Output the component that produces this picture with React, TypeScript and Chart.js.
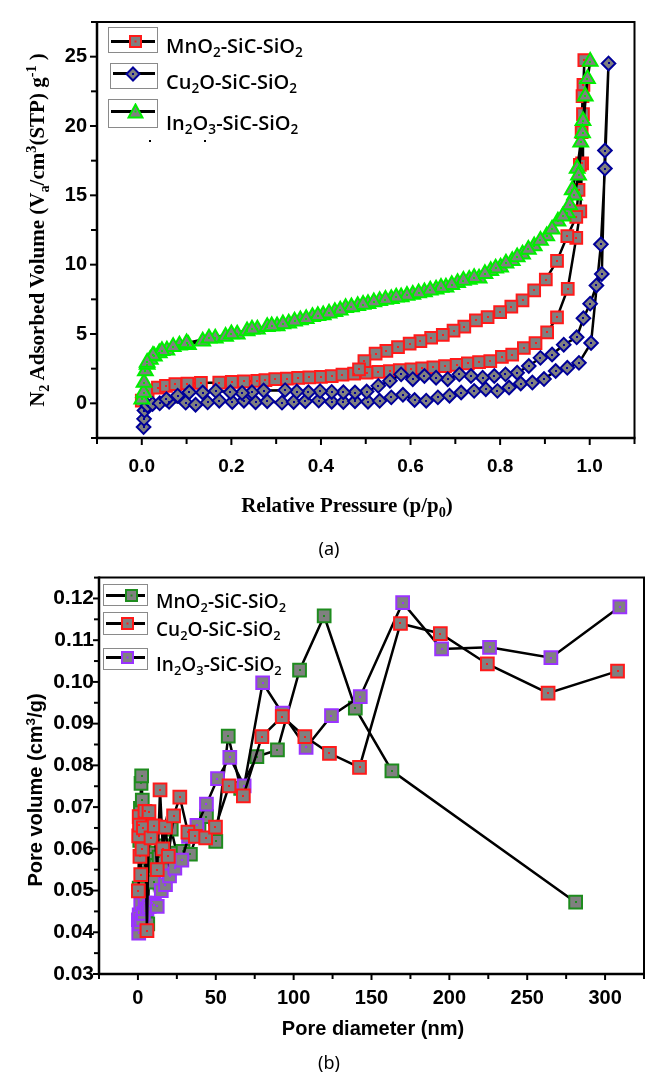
import React, { useEffect, useRef } from "react";
import { Chart, registerables } from "chart.js";

Chart.register(...registerables);

// ---------- (a) N2 adsorption–desorption isotherms ----------
const mnAdsP = [0.0, 0.013, 0.036, 0.054, 0.075, 0.102, 0.132, 0.173, 0.201, 0.228, 0.258, 0.276, 0.298, 0.324, 0.349, 0.374, 0.4, 0.424, 0.448, 0.474, 0.502, 0.528, 0.554, 0.576, 0.602, 0.626, 0.651, 0.677, 0.703, 0.728, 0.753, 0.778, 0.804, 0.827, 0.853, 0.879, 0.905, 0.927, 0.951, 0.97, 0.979, 0.983, 0.985, 0.988];
const mnAdsV = [0.19, 0.9, 1.14, 1.26, 1.38, 1.43, 1.47, 1.5, 1.55, 1.58, 1.62, 1.68, 1.74, 1.79, 1.83, 1.87, 1.9, 1.97, 2.07, 2.14, 2.21, 2.27, 2.33, 2.39, 2.45, 2.52, 2.6, 2.69, 2.78, 2.88, 2.97, 3.04, 3.35, 3.52, 3.99, 4.35, 5.11, 6.2, 8.26, 11.94, 13.85, 17.3, 20.85, 24.75];
const mnDesP = [0.986, 0.984, 0.982, 0.978, 0.975, 0.97, 0.95, 0.927, 0.902, 0.876, 0.85, 0.825, 0.8, 0.772, 0.746, 0.72, 0.696, 0.672, 0.646, 0.622, 0.598, 0.572, 0.546, 0.522, 0.497, 0.485];
const mnDesV = [22.97, 22.15, 19.56, 17.2, 15.4, 13.44, 12.06, 10.28, 8.93, 8.15, 7.43, 6.98, 6.58, 6.22, 5.98, 5.53, 5.25, 4.94, 4.73, 4.49, 4.3, 4.06, 3.78, 3.59, 3.04, 2.45];

const cuAdsP = [0.004, 0.005, 0.006, 0.013, 0.024, 0.04, 0.061, 0.098, 0.12, 0.147, 0.173, 0.202, 0.228, 0.254, 0.28, 0.313, 0.339, 0.365, 0.395, 0.424, 0.45, 0.476, 0.505, 0.531, 0.557, 0.583, 0.609, 0.635, 0.661, 0.687, 0.713, 0.742, 0.768, 0.794, 0.82, 0.846, 0.872, 0.898, 0.924, 0.95, 0.976, 1.003, 1.025, 1.034, 1.042];
const cuAdsV = [-1.71, -1.12, -0.52, -0.17, -0.05, 0.0, 0.11, 0.05, -0.1, 0.07, 0.19, 0.1, 0.19, 0.08, 0.15, 0.05, 0.1, 0.15, 0.2, 0.12, 0.1, 0.15, 0.12, 0.18, 0.43, 0.62, 0.24, 0.19, 0.43, 0.55, 0.78, 0.9, 1.02, 0.9, 1.14, 1.43, 1.5, 1.75, 2.33, 2.56, 2.92, 4.35, 11.47, 16.93, 24.51];
const cuDesP = [1.034, 1.027, 1.015, 1.001, 0.986, 0.971, 0.942, 0.916, 0.89, 0.864, 0.838, 0.812, 0.787, 0.761, 0.735, 0.709, 0.683, 0.657, 0.631, 0.605, 0.579, 0.554, 0.528, 0.502, 0.476, 0.45, 0.424, 0.398, 0.372, 0.346, 0.32, 0.272, 0.246, 0.224, 0.198, 0.165, 0.136, 0.106, 0.08, 0.055];
const cuDesV = [18.23, 9.33, 8.5, 7.19, 6.13, 4.76, 4.23, 3.52, 3.28, 2.69, 2.21, 2.09, 1.97, 1.85, 1.97, 2.09, 1.74, 1.85, 1.97, 1.74, 2.09, 1.62, 1.26, 0.85, 0.78, 0.8, 0.82, 0.88, 0.8, 0.85, 0.95, 0.92, 0.8, 0.75, 0.8, 0.9, 0.78, 0.8, 0.55, 0.3];

const inAdsP = [0.0, 0.004, 0.005, 0.008, 0.012, 0.019, 0.028, 0.039, 0.056, 0.084, 0.104, 0.136, 0.164, 0.187, 0.213, 0.235, 0.258, 0.28, 0.302, 0.328, 0.354, 0.381, 0.405, 0.431, 0.455, 0.482, 0.505, 0.531, 0.557, 0.579, 0.605, 0.631, 0.657, 0.679, 0.705, 0.731, 0.753, 0.779, 0.801, 0.827, 0.85, 0.876, 0.904, 0.929, 0.95, 0.961, 0.972, 0.98, 0.985, 0.99, 1.001];
const inAdsV = [0.3, 0.78, 1.5, 2.33, 2.8, 3.16, 3.4, 3.63, 3.82, 4.18, 4.23, 4.47, 4.7, 4.82, 4.99, 5.22, 5.34, 5.53, 5.58, 5.77, 6.01, 6.25, 6.37, 6.6, 6.89, 7.03, 7.19, 7.39, 7.55, 7.67, 7.84, 8.03, 8.22, 8.38, 8.69, 8.93, 9.02, 9.57, 9.81, 10.28, 10.76, 11.35, 12.06, 13.13, 13.73, 15.39, 16.93, 18.83, 20.37, 22.15, 24.65];
const inDesP = [0.995, 0.984, 0.975, 0.966, 0.955, 0.94, 0.916, 0.89, 0.863, 0.838, 0.813, 0.79, 0.766, 0.742, 0.718, 0.692, 0.668, 0.644, 0.618, 0.592, 0.568, 0.544, 0.518, 0.494, 0.468, 0.443, 0.418, 0.393, 0.367, 0.341, 0.315, 0.29, 0.246, 0.2, 0.15, 0.1, 0.07, 0.045, 0.025, 0.012];
const inDesV = [23.4, 19.5, 16.45, 15.0, 14.3, 13.5, 12.55, 11.75, 11.1, 10.55, 10.1, 9.75, 9.35, 9.05, 8.85, 8.55, 8.35, 8.15, 7.95, 7.78, 7.65, 7.48, 7.3, 7.12, 6.95, 6.72, 6.5, 6.32, 6.1, 5.92, 5.72, 5.58, 5.35, 5.0, 4.7, 4.35, 4.08, 3.8, 3.45, 2.95];

const isoXMajor = [0, 0.2, 0.4, 0.6, 0.8, 1.0];
const isoXMinor = [-0.1, 0.1, 0.3, 0.5, 0.7, 0.9, 1.1];
const isoYMajor = [0, 5, 10, 15, 20, 25];
const isoYMinor = [-2.5, 2.5, 7.5, 12.5, 17.5, 22.5, 27.5];

// ---------- (b) pore size distribution ----------
const mnPoreD = [0.8, 1.2, 1.6, 2.0, 2.4, 2.8, 3.3, 3.9, 4.6, 5.4, 6.3, 7.4, 8.6, 10.0, 11.7, 13.6, 15.8, 18.4, 21.4, 24.9, 29.0, 33.7, 39.2, 44.0, 50.0, 58.0, 66.0, 76.4, 89.6, 103.8, 119.6, 139.6, 163.1, 281.1];
const mnPoreV = [0.0506, 0.062, 0.0697, 0.0757, 0.0775, 0.0717, 0.0655, 0.06, 0.054, 0.0454, 0.042, 0.058, 0.059, 0.052, 0.056, 0.058, 0.0607, 0.055, 0.0647, 0.059, 0.0594, 0.0587, 0.065, 0.0677, 0.0618, 0.087, 0.0745, 0.0821, 0.0837, 0.1028, 0.1158, 0.0937, 0.0787, 0.0472];
const cuPoreD = [0.3, 0.5, 0.8, 1.0, 1.3, 1.8, 2.6, 3.5, 4.5, 5.8, 7.1, 8.4, 10.5, 12.4, 14.2, 16.0, 17.7, 19.5, 22.9, 26.9, 32.1, 36.9, 43.5, 49.8, 58.5, 67.7, 79.6, 92.7, 107.2, 123.0, 142.3, 168.6, 194.2, 224.4, 263.4, 308.0];
const cuPoreV = [0.0499, 0.0631, 0.0677, 0.0657, 0.0582, 0.0538, 0.0599, 0.065, 0.069, 0.0404, 0.0689, 0.0626, 0.0655, 0.055, 0.0741, 0.06, 0.0652, 0.0582, 0.0679, 0.0724, 0.064, 0.063, 0.0626, 0.0652, 0.0751, 0.0727, 0.0869, 0.0917, 0.0869, 0.0829, 0.0795, 0.114, 0.1116, 0.1043, 0.0973, 0.1026];
const inPoreD = [0.3, 0.5, 0.8, 1.2, 1.8, 2.5, 3.5, 4.6, 5.8, 7.2, 9.0, 10.6, 12.4, 15.0, 17.7, 20.3, 23.7, 28.2, 32.5, 37.9, 44.0, 51.1, 59.0, 68.2, 80.1, 92.7, 108.0, 124.3, 142.8, 170.0, 195.0, 225.8, 265.2, 309.5];
const inPoreV = [0.043, 0.0398, 0.0442, 0.042, 0.0466, 0.043, 0.0445, 0.047, 0.0456, 0.0462, 0.047, 0.0465, 0.0462, 0.05, 0.0514, 0.0535, 0.0554, 0.0573, 0.063, 0.0656, 0.0707, 0.0768, 0.0819, 0.0751, 0.0998, 0.0925, 0.0843, 0.0919, 0.0965, 0.119, 0.1079, 0.1083, 0.1058, 0.118];

const poreXMajor = [0, 50, 100, 150, 200, 250, 300];
const poreXMinor = [-25, 25, 75, 125, 175, 225, 275, 325];
const poreYMajor = [0.03, 0.04, 0.05, 0.06, 0.07, 0.08, 0.09, 0.1, 0.11, 0.12];
const poreYMinor = [0.035, 0.045, 0.055, 0.065, 0.075, 0.085, 0.095, 0.105, 0.115, 0.125];

const seriesNames = ["MnO2-SiC-SiO2", "Cu2O-SiC-SiO2", "In2O3-SiC-SiO2"];

const GRAY = "#808080";
const RED = "#ff1a1a";
const NAVY = "#000099";
const LIME = "#00ee00";
const GREEN = "#1e8c1e";
const PURPLE = "#9a33ff";

const SANS = "'Liberation Sans', Arial, sans-serif";
const SERIF = "'Liberation Serif', 'Times New Roman', serif";
const LEG = "'Open Sans', 'Noto Sans', sans-serif";

const pts = (xs: number[], ys: number[]) => xs.map((x, i) => ({ x, y: ys[i] }));

function framePlugin(cfg: any) {
  return {
    id: "frameTicks",
    afterDatasetDraw(chart: any, args: any) {
      const ds = chart.data.datasets[args.index];
      const ctx = chart.ctx;
      ctx.save();
      ctx.fillStyle = ds.dotColor;
      for (const el of args.meta.data) {
        ctx.fillRect(Math.round(el.x) - 1, Math.round(el.y) - 1, 2, 2);
      }
      ctx.restore();
    },
    afterDraw(chart: any) {
      const { ctx, chartArea: a, scales } = chart;
      const x = scales.x;
      const y = scales.y;
      ctx.save();
      ctx.strokeStyle = "#000";
      ctx.lineWidth = 2;
      const xt = [...cfg.xMajor.map((v: number) => [v, cfg.major]), ...cfg.xMinor.map((v: number) => [v, cfg.minor])];
      for (const [v, len] of xt) {
        const px = x.getPixelForValue(v);
        if (px < a.left - 1 || px > a.right + 1) continue;
        ctx.beginPath();
        ctx.moveTo(px, a.bottom);
        ctx.lineTo(px, a.bottom + len);
        ctx.stroke();
      }
      const yt = [...cfg.yMajor.map((v: number) => [v, cfg.major]), ...cfg.yMinor.map((v: number) => [v, cfg.minor])];
      for (const [v, len] of yt) {
        const py = y.getPixelForValue(v);
        if (py < a.top - 1 || py > a.bottom + 1) continue;
        ctx.beginPath();
        ctx.moveTo(a.left, py);
        ctx.lineTo(a.left - len, py);
        ctx.stroke();
      }
      ctx.lineWidth = cfg.frameW;
      ctx.beginPath();
      ctx.moveTo(a.left, a.top);
      ctx.lineTo(a.right, a.top);
      ctx.lineTo(a.right, a.bottom);
      ctx.stroke();
      ctx.lineWidth = cfg.axisW;
      ctx.beginPath();
      ctx.moveTo(a.left, a.top - 1);
      ctx.lineTo(a.left, a.bottom);
      ctx.lineTo(a.right + 1, a.bottom);
      ctx.stroke();
      ctx.restore();
    },
  };
}

function ds(label: string, data: any[], style: string, radius: number, color: string, order: number) {
  return {
    label,
    data,
    showLine: true,
    fill: false,
    tension: 0,
    borderColor: "#000",
    borderWidth: 2.5,
    pointStyle: style,
    pointRadius: radius,
    pointBackgroundColor: GRAY,
    pointBorderColor: color,
    pointBorderWidth: 2,
    order,
    dotColor: color,
  } as any;
}

function IsoChart() {
  const ref = useRef<HTMLCanvasElement | null>(null);
  useEffect(() => {
    if (!ref.current) return;
    const chart = new Chart(ref.current, {
      type: "scatter",
      data: {
        datasets: [
          ds(seriesNames[0], [...pts(mnAdsP, mnAdsV), ...pts(mnDesP, mnDesV)], "rect", 8.3, RED, 3),
          ds(seriesNames[1], [...pts(cuAdsP, cuAdsV), ...pts(cuDesP, cuDesV)], "rectRot", 6.8, NAVY, 2),
          ds(seriesNames[2], [...pts(inAdsP, inAdsV), ...pts(inDesP, inDesV)], "triangle", 8.5, LIME, 1),
        ],
      },
      options: {
        animation: false,
        responsive: false,
        events: [],
        layout: { padding: { top: 16, right: 8, left: 0, bottom: 0 } },
        plugins: { legend: { display: false }, tooltip: { enabled: false } },
        scales: {
          x: {
            type: "linear",
            min: -0.1,
            max: 1.1,
            grid: { display: false, drawTicks: false },
            border: { display: false },
            afterBuildTicks: (s: any) => {
              s.ticks = isoXMajor.map((v) => ({ value: v }));
            },
            afterFit: (s: any) => {
              s.height = 122;
            },
            ticks: {
              autoSkip: false,
              maxRotation: 0,
              padding: 17,
              color: "#000",
              font: { family: SANS, weight: "bold", size: 19 },
              callback: (v: any) => Number(v).toFixed(1),
            },
          },
          y: {
            type: "linear",
            min: -2.5,
            max: 27.5,
            grid: { display: false, drawTicks: false },
            border: { display: false },
            afterBuildTicks: (s: any) => {
              s.ticks = isoYMajor.map((v) => ({ value: v }));
            },
            afterFit: (s: any) => {
              s.width = 97;
            },
            ticks: {
              autoSkip: false,
              padding: 10,
              color: "#000",
              font: { family: SANS, weight: "bold", size: 20 },
              callback: (v: any) => String(v),
            },
          },
        },
      } as any,
      plugins: [
        framePlugin({ xMajor: isoXMajor, xMinor: isoXMinor, yMajor: isoYMajor, yMinor: isoYMinor, major: 7, minor: 6, frameW: 2, axisW: 2.5 }),
      ],
    });
    return () => chart.destroy();
  }, []);
  return <canvas ref={ref} width={645} height={560} style={{ position: "absolute", left: 0, top: 0, width: 645, height: 560 }} />;
}

function PoreChart() {
  const ref = useRef<HTMLCanvasElement | null>(null);
  useEffect(() => {
    if (!ref.current) return;
    const chart = new Chart(ref.current, {
      type: "scatter",
      data: {
        datasets: [
          ds(seriesNames[0], pts(mnPoreD, mnPoreV), "rect", 9, GREEN, 3),
          ds(seriesNames[1], pts(cuPoreD, cuPoreV), "rect", 9, RED, 1),
          ds(seriesNames[2], pts(inPoreD, inPoreV), "rect", 9, PURPLE, 2),
        ],
      },
      options: {
        animation: false,
        responsive: false,
        events: [],
        layout: { padding: { top: 17, right: 8, left: 0, bottom: 0 } },
        plugins: { legend: { display: false }, tooltip: { enabled: false } },
        scales: {
          x: {
            type: "linear",
            min: -25,
            max: 325,
            grid: { display: false, drawTicks: false },
            border: { display: false },
            afterBuildTicks: (s: any) => {
              s.ticks = poreXMajor.map((v) => ({ value: v }));
            },
            afterFit: (s: any) => {
              s.height = 104;
            },
            ticks: {
              autoSkip: false,
              maxRotation: 0,
              padding: 12,
              color: "#000",
              font: { family: SANS, weight: "bold", size: 20 },
              callback: (v: any) => String(v),
            },
          },
          y: {
            type: "linear",
            min: 0.03,
            max: 0.125,
            grid: { display: false, drawTicks: false },
            border: { display: false },
            afterBuildTicks: (s: any) => {
              s.ticks = poreYMajor.map((v) => ({ value: v }));
            },
            afterFit: (s: any) => {
              s.width = 99;
            },
            ticks: {
              autoSkip: false,
              padding: 5,
              color: "#000",
              font: { family: SANS, weight: "bold", size: 21 },
              callback: (v: any) => Number(v).toFixed(2),
            },
          },
        },
      } as any,
      plugins: [
        framePlugin({ xMajor: poreXMajor, xMinor: poreXMinor, yMajor: poreYMajor, yMinor: poreYMinor, major: 6, minor: 5, frameW: 2, axisW: 2.5 }),
      ],
    });
    return () => chart.destroy();
  }, []);
  return <canvas ref={ref} width={655} height={518} style={{ position: "absolute", left: 0, top: 560, width: 655, height: 518 }} />;
}

const sub: React.CSSProperties = { fontSize: "0.68em", position: "relative", top: "0.32em" };
const sup: React.CSSProperties = { fontSize: "0.68em", position: "relative", top: "-0.55em" };

function Marker({ kind, color, size }: { kind: string; color: string; size: number }) {
  const s = size;
  const c = s / 2;
  let shape: React.ReactNode;
  if (kind === "square") {
    shape = <rect x={2} y={2} width={s - 4} height={s - 4} fill={GRAY} stroke={color} strokeWidth={2} />;
  } else if (kind === "diamond") {
    shape = <polygon points={`${c},1.5 ${s - 1.5},${c} ${c},${s - 1.5} 1.5,${c}`} fill={GRAY} stroke={color} strokeWidth={2} />;
  } else {
    shape = <polygon points={`${c},1.5 ${s - 1.5},${s - 2.5} 1.5,${s - 2.5}`} fill={GRAY} stroke={color} strokeWidth={2} />;
  }
  return (
    <svg width={s} height={s} style={{ display: "block" }}>
      {shape}
      <rect x={c - 1} y={c - 1} width={2} height={2} fill={color} />
    </svg>
  );
}

function LegendItem(p: {
  box: [number, number, number, number];
  lineY: number;
  markerX: number;
  kind: string;
  color: string;
  msize: number;
  textLeft: number;
  textTop: number;
  fontSize: number;
  children: React.ReactNode;
}) {
  const [bl, bt, bw, bh] = p.box;
  return (
    <>
      <div style={{ position: "absolute", left: bl, top: bt, width: bw, height: bh, border: "1.5px solid #8a8a8a", boxSizing: "border-box" }} />
      <div style={{ position: "absolute", left: bl + 3, top: p.lineY - 1.25, width: bw - 6, height: 2.5, background: "#000" }} />
      <div style={{ position: "absolute", left: p.markerX - p.msize / 2, top: p.lineY - p.msize / 2 }}>
        <Marker kind={p.kind} color={p.color} size={p.msize} />
      </div>
      <div style={{ position: "absolute", left: p.textLeft, top: p.textTop, fontFamily: LEG, fontWeight: 600, fontSize: p.fontSize, lineHeight: `${p.fontSize}px`, whiteSpace: "nowrap", color: "#000" }}>
        {p.children}
      </div>
    </>
  );
}

const centered = (cx: number, cy: number, extra: React.CSSProperties = {}, rotate = false): React.CSSProperties => ({
  position: "absolute",
  left: cx,
  top: cy,
  transform: `translate(-50%, -50%)${rotate ? " rotate(-90deg)" : ""}`,
  whiteSpace: "nowrap",
  lineHeight: 1,
  color: "#000",
  ...extra,
});

const dot = (x: number, y: number): React.CSSProperties => ({ position: "absolute", left: x, top: y, width: 2, height: 2, background: "#000" });

export default function App() {
  return (
    <div style={{ position: "absolute", left: 0, top: 0, width: 645, height: 1078, overflow: "hidden", background: "#fff" }}>
      <IsoChart />
      <PoreChart />

      {/* (a) legend */}
      <LegendItem box={[108, 27, 50, 26]} lineY={41.5} markerX={135} kind="square" color={RED} msize={15} textLeft={166} textTop={35.5} fontSize={20}>
        MnO<span style={sub}>2</span>-SiC-SiO<span style={sub}>2</span>
      </LegendItem>
      <LegendItem box={[110, 63, 48, 26]} lineY={73.5} markerX={133} kind="diamond" color={NAVY} msize={16} textLeft={166} textTop={71.5} fontSize={20}>
        Cu<span style={sub}>2</span>O-SiC-SiO<span style={sub}>2</span>
      </LegendItem>
      <LegendItem box={[108, 99, 50, 29]} lineY={111.5} markerX={135} kind="triangle" color={LIME} msize={17} textLeft={166} textTop={112.5} fontSize={20}>
        In<span style={sub}>2</span>O<span style={sub}>3</span>-SiC-SiO<span style={sub}>2</span>
      </LegendItem>
      <div style={dot(149, 140)} />
      <div style={dot(204, 140)} />

      {/* (a) axis titles */}
      <div style={centered(37, 230, { fontFamily: SERIF, fontWeight: 700, fontSize: 21 }, true)}>
        N<span style={sub}>2</span> Adsorbed Volume (V<span style={sub}>a</span>/cm<span style={sup}>3</span>(STP) g<span style={sup}>-1</span> )
      </div>
      <div style={centered(347, 505, { fontFamily: SERIF, fontWeight: 700, fontSize: 21 })}>
        Relative Pressure (p/p<span style={sub}>0</span>)
      </div>
      <div style={centered(329, 548, { fontFamily: "'Noto Sans', sans-serif", fontSize: 18 })}>(a)</div>

      {/* (b) legend */}
      <LegendItem box={[103, 584, 45, 22]} lineY={595.5} markerX={131.5} kind="square" color={GREEN} msize={15} textLeft={156} textTop={591.5} fontSize={19}>
        MnO<span style={sub}>2</span>-SiC-SiO<span style={sub}>2</span>
      </LegendItem>
      <LegendItem box={[103, 612, 45, 23]} lineY={623.5} markerX={127.5} kind="square" color={RED} msize={15} textLeft={156} textTop={619.5} fontSize={19}>
        Cu<span style={sub}>2</span>O-SiC-SiO<span style={sub}>2</span>
      </LegendItem>
      <LegendItem box={[103, 648, 45, 22]} lineY={657.5} markerX={127.5} kind="square" color={PURPLE} msize={15} textLeft={156} textTop={654.5} fontSize={19}>
        In<span style={sub}>2</span>O<span style={sub}>3</span>-SiC-SiO<span style={sub}>2</span>
      </LegendItem>

      {/* (b) axis titles */}
      <div style={centered(35, 790, { fontFamily: SANS, fontWeight: 700, fontSize: 20 }, true)}>
        Pore volume (cm<span style={sup}>3</span>/g)
      </div>
      <div style={centered(373, 1028, { fontFamily: SANS, fontWeight: 700, fontSize: 20 })}>Pore diameter (nm)</div>
      <div style={centered(329, 1062, { fontFamily: "'Noto Sans', sans-serif", fontSize: 18 })}>(b)</div>
    </div>
  );
}
